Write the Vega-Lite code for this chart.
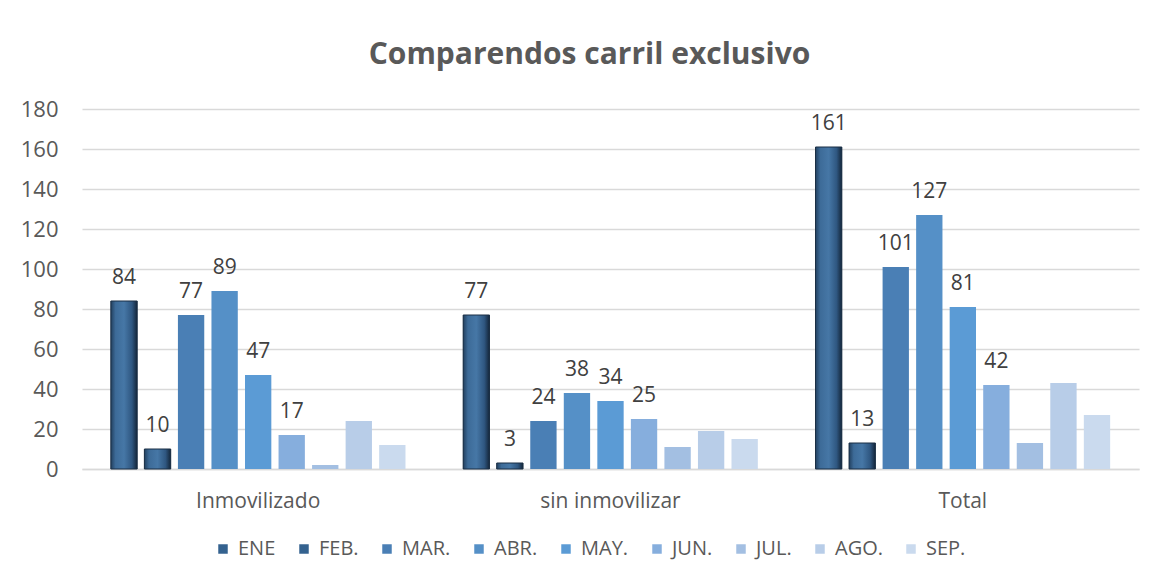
{
  "$schema": "https://vega.github.io/schema/vega-lite/v6.json",
  "autosize": {"type": "none"},
  "width": 1057,
  "height": 360,
  "padding": {"left": 82, "top": 109, "right": 16, "bottom": 115},
  "background": "white",
  "title": {
    "text": "Comparendos carril exclusivo",
    "font": "Open Sans",
    "fontSize": 30,
    "fontWeight": "bold",
    "color": "#595959",
    "anchor": "middle",
    "offset": 28,
    "dx": -21
  },
  "data": {
    "values": [
      {"cat": "Inmovilizado", "mes": "ENE", "v": 84},
      {"cat": "Inmovilizado", "mes": "FEB.", "v": 10},
      {"cat": "Inmovilizado", "mes": "MAR.", "v": 77},
      {"cat": "Inmovilizado", "mes": "ABR.", "v": 89},
      {"cat": "Inmovilizado", "mes": "MAY.", "v": 47},
      {"cat": "Inmovilizado", "mes": "JUN.", "v": 17},
      {"cat": "Inmovilizado", "mes": "JUL.", "v": 2},
      {"cat": "Inmovilizado", "mes": "AGO.", "v": 24},
      {"cat": "Inmovilizado", "mes": "SEP.", "v": 12},
      {"cat": "sin inmovilizar", "mes": "ENE", "v": 77},
      {"cat": "sin inmovilizar", "mes": "FEB.", "v": 3},
      {"cat": "sin inmovilizar", "mes": "MAR.", "v": 24},
      {"cat": "sin inmovilizar", "mes": "ABR.", "v": 38},
      {"cat": "sin inmovilizar", "mes": "MAY.", "v": 34},
      {"cat": "sin inmovilizar", "mes": "JUN.", "v": 25},
      {"cat": "sin inmovilizar", "mes": "JUL.", "v": 11},
      {"cat": "sin inmovilizar", "mes": "AGO.", "v": 19},
      {"cat": "sin inmovilizar", "mes": "SEP.", "v": 15},
      {"cat": "Total", "mes": "ENE", "v": 161},
      {"cat": "Total", "mes": "FEB.", "v": 13},
      {"cat": "Total", "mes": "MAR.", "v": 101},
      {"cat": "Total", "mes": "ABR.", "v": 127},
      {"cat": "Total", "mes": "MAY.", "v": 81},
      {"cat": "Total", "mes": "JUN.", "v": 42},
      {"cat": "Total", "mes": "JUL.", "v": 13},
      {"cat": "Total", "mes": "AGO.", "v": 43},
      {"cat": "Total", "mes": "SEP.", "v": 27}
    ]
  },
  "encoding": {
    "x": {
      "field": "cat", "type": "nominal", "sort": null, "title": null,
      "scale": {"paddingInner": 0, "paddingOuter": 0},
      "axis": {
        "labelAngle": 0, "labelFont": "Open Sans", "labelFontSize": 21, "labelColor": "#595959",
        "labelPadding": 21, "ticks": false, "domainColor": "#d9d9d9", "domainWidth": 1.5
      }
    },
    "xOffset": {
      "field": "mes", "type": "nominal",
      "sort": ["ENE", "FEB.", "MAR.", "ABR.", "MAY.", "JUN.", "JUL.", "AGO.", "SEP."],
      "scale": {"domain": ["ENE", "FEB.", "MAR.", "ABR.", "MAY.", "JUN.", "JUL.", "AGO.", "SEP."], "paddingInner": 0.215, "paddingOuter": 0.86}
    },
    "y": {
      "field": "v", "type": "quantitative", "title": null,
      "scale": {"domain": [0, 180], "nice": false},
      "axis": {
        "values": [0, 20, 40, 60, 80, 100, 120, 140, 160, 180],
        "labelFont": "Open Sans", "labelFontSize": 22, "labelColor": "#595959",
        "labelPadding": 24, "ticks": false, "domain": false,
        "gridColor": "#d9d9d9", "gridWidth": 1.5
      }
    }
  },
  "layer": [
    {
      "mark": {"type": "bar"},
      "encoding": {
        "color": {
          "field": "mes", "type": "nominal", "title": null,
          "sort": ["ENE", "FEB.", "MAR.", "ABR.", "MAY.", "JUN.", "JUL.", "AGO.", "SEP."],
          "scale": {
            "domain": ["ENE", "FEB.", "MAR.", "ABR.", "MAY.", "JUN.", "JUL.", "AGO.", "SEP."],
            "range": ["#34628f", "#34628f", "#4a7fb5", "#5590c7", "#5b9bd5", "#86aedd", "#a3bfe2", "#b8cde8", "#cadaee"]
          },
          "legend": {
            "orient": "none", "legendX": 131, "legendY": 430, "direction": "horizontal",
            "symbolType": "square", "symbolSize": 90, "symbolStrokeWidth": 0,
            "labelFont": "Open Sans", "labelFontSize": 20, "labelColor": "#595959",
            "columnPadding": 18, "labelOffset": 5
          }
        }
      }
    },
    {
      "transform": [{"filter": {"field": "mes", "oneOf": ["ENE", "FEB."]}}],
      "mark": {
        "type": "bar",
        "stroke": "#1b2f44",
        "strokeWidth": 1,
        "color": {
          "gradient": "linear", "x1": 0, "y1": 0, "x2": 1, "y2": 0,
          "stops": [
            {"offset": 0, "color": "#22405f"},
            {"offset": 0.18, "color": "#3d6b98"},
            {"offset": 0.5, "color": "#4677a6"},
            {"offset": 0.8, "color": "#2f5781"},
            {"offset": 1, "color": "#14263a"}
          ]
        }
      },
      "encoding": {}
    },
    {
      "transform": [{"filter": {"field": "mes", "oneOf": ["ENE", "FEB.", "MAR.", "ABR.", "MAY.", "JUN."]}}],
      "mark": {"type": "text", "baseline": "alphabetic", "dy": -17, "font": "Open Sans", "fontSize": 21, "color": "#404040"},
      "encoding": {"text": {"field": "v", "type": "quantitative"}}
    }
  ],
  "config": {"view": {"stroke": null}}
}
